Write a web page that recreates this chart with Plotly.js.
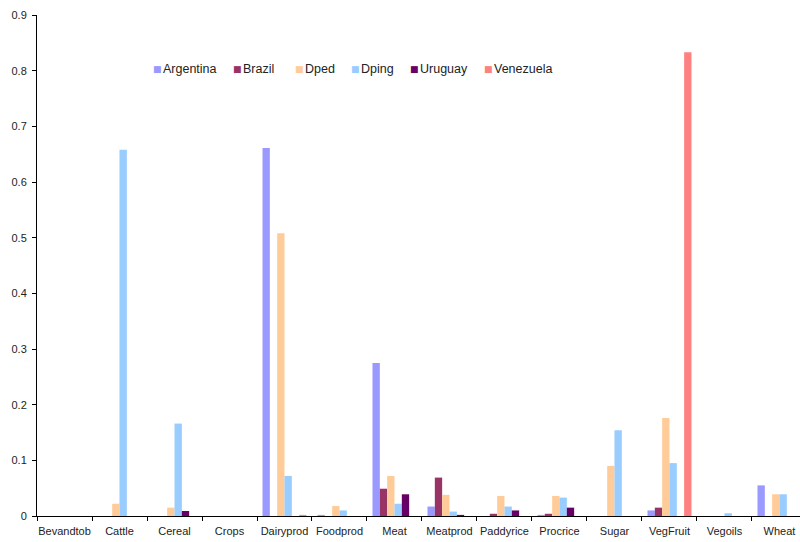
<!DOCTYPE html>
<html>
<head>
<meta charset="utf-8">
<script src="https://cdn.plot.ly/plotly-3.0.1.min.js"></script>
<style>html,body{margin:0;padding:0;background:#fff}#chart{width:800px;height:542px}</style>
</head>
<body>
<div id="chart"></div>
<script>
var categories = ["Bevandtob","Cattle","Cereal","Crops","Dairyprod","Foodprod","Meat","Meatprod","Paddyrice","Procrice","Sugar","VegFruit","Vegoils","Wheat"];
var argentina = [0, 0, 0, 0, 0.661, 0.002, 0.275, 0.017, 0, 0.002, 0, 0.010, 0, 0.055];
var brazil    = [0, 0, 0, 0, 0, 0, 0.049, 0.069, 0.004, 0.004, 0, 0.015, 0, 0];
var dped      = [0, 0.022, 0.015, 0, 0.508, 0.018, 0.072, 0.038, 0.036, 0.036, 0.090, 0.176, 0, 0.039];
var dping     = [0, 0.658, 0.166, 0, 0.072, 0.010, 0.022, 0.008, 0.017, 0.033, 0.154, 0.095, 0.005, 0.039];
var uruguay   = [0, 0, 0.009, 0, 0, 0, 0.039, 0.002, 0.010, 0.015, 0, 0, 0, 0];
var venezuela = [0, 0, 0, 0, 0.002, 0, 0, 0, 0, 0, 0, 0.833, 0, 0];
var seriesNames = ["Argentina","Brazil","Dped","Dping","Uruguay","Venezuela"];
var seriesColors = ["#9999FF","#993366","#FFCC99","#99CCFF","#660066","#FF8080"];
var yTicks = [0, 0.1, 0.2, 0.3, 0.4, 0.5, 0.6, 0.7, 0.8, 0.9];
var yTickText = ["0","0.1","0.2","0.3","0.4","0.5","0.6","0.7","0.8","0.9"];

var seriesValues = [argentina, brazil, dped, dping, uruguay, venezuela];
var traces = seriesNames.map(function(n, i){
  return {type: "bar", name: n, x: categories, y: seriesValues[i],
    marker: {color: seriesColors[i], line: {width: 0}}, showlegend: false};
});

// legend drawn as text annotations (marker glyph + name), positions in pixels
var plotL = 37, plotW = 763;
var legendMarkerPx = [153, 233, 295, 351, 410, 484];
var legendY = 0.893;
var annotations = [];
seriesNames.forEach(function(n, i){
  annotations.push({xref: "paper", yref: "paper", x: (legendMarkerPx[i] - 1 - plotL) / plotW, y: legendY,
    xanchor: "left", yanchor: "middle", showarrow: false, text: "■", borderpad: 0,
    font: {family: "DejaVu Sans", size: 9, color: seriesColors[i]}});
  annotations.push({xref: "paper", yref: "paper", x: (legendMarkerPx[i] + 9 - plotL) / plotW, y: legendY,
    xanchor: "left", yanchor: "middle", showarrow: false, text: n, borderpad: 0,
    font: {size: 12.5, color: "#222"}});
});

var layout = {
  width: 800, height: 542,
  margin: {l: 37, r: 0, t: 15, b: 26},
  paper_bgcolor: "#fff", plot_bgcolor: "#fff",
  font: {family: "Liberation Sans, Arial, sans-serif", size: 11, color: "#222"},
  barmode: "group", bargap: 0.2, bargroupgap: 0,
  showlegend: false,
  annotations: annotations,
  xaxis: {type: "category", range: [-0.5, 13.373], showline: true, linecolor: "#000", linewidth: 1,
    ticks: "outside", tickson: "boundaries", ticklen: 4, tickcolor: "#000", showgrid: false, zeroline: false,
    tickangle: 0, tickfont: {size: 11}, automargin: false, ticklabelstandoff: 5},
  yaxis: {range: [0, 0.9], showline: true, linecolor: "#000", linewidth: 1, ticks: "outside", ticklen: 4,
    tickcolor: "#000", tickvals: yTicks, ticktext: yTickText, showgrid: false, zeroline: false,
    tickfont: {size: 11}, automargin: false, ticklabelstandoff: 3}
};
Plotly.newPlot("chart", traces, layout, {displayModeBar: false, staticPlot: true});
</script>
</body>
</html>
